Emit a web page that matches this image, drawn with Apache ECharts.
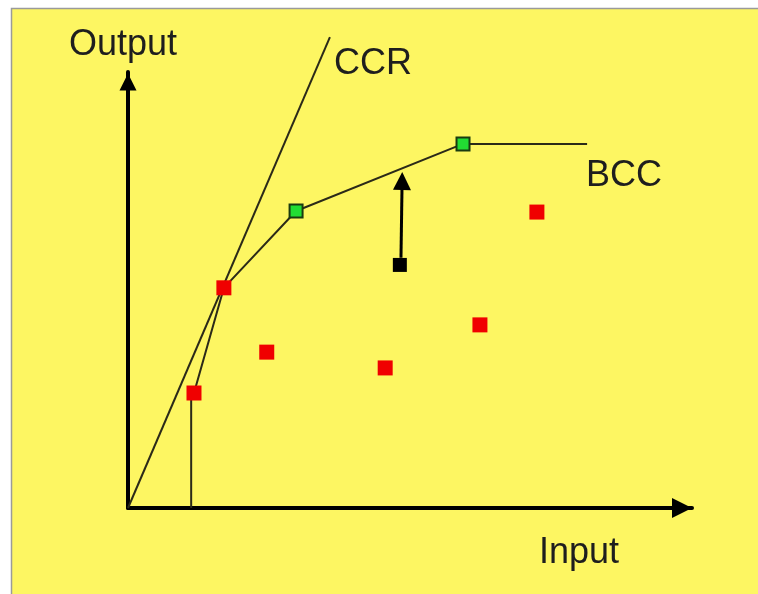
<!DOCTYPE html>
<html>
<head>
<meta charset="utf-8">
<script src="https://cdn.jsdelivr.net/npm/echarts@6/dist/echarts.min.js"></script>
<style>
html,body{margin:0;padding:0;background:#ffffff;}
#chart{width:758px;height:594px;}
</style>
</head>
<body>
<div id="chart"></div>
<script>
// Data (input, output)
const redUnits = [[1.17, 2.11], [1.70, 4.04], [2.46, 2.86], [4.56, 2.57], [6.24, 3.36], [7.25, 5.43]];
const greenUnits = [[2.98, 5.45], [5.94, 6.68]];
const blackUnit = [[4.82, 4.46]];
const ccrFrontier = [[0, 0], [3.58, 8.64]];
const bccFrontier = [[1.12, 0], [1.12, 2.05], [1.17, 2.11], [1.70, 4.04], [2.98, 5.45], [5.94, 6.68], [8.14, 6.68]];
const projection = [[4.84, 4.59], [4.86, 6.0]];
const labels = { x: 'Input', y: 'Output', ccr: 'CCR', bcc: 'BCC' };

const chart = echarts.init(document.getElementById('chart'));
const font = '"Liberation Sans", Arial, sans-serif';
const txt = '#1e1e1e';
const tri = 'path://M0,0 L10,20 L-10,20 Z';
chart.setOption({
  animation: false,
  backgroundColor: '#ffffff',
  graphic: [
    { type: 'rect', z: -10, shape: { x: 11.5, y: 8.5, width: 760, height: 600 },
      style: { fill: '#FDF662', stroke: '#9a9a9a', lineWidth: 1.5 } },
    { type: 'text', left: 69, top: 27, style: { text: labels.y, font: '36px ' + font, fill: txt } },
    { type: 'text', left: 334, top: 46, style: { text: labels.ccr, font: '36px ' + font, fill: txt } },
    { type: 'text', left: 586, top: 158, style: { text: labels.bcc, font: '36px ' + font, fill: txt } },
    { type: 'text', left: 539, top: 535, style: { text: labels.x, font: '36px ' + font, fill: txt } }
  ],
  grid: { left: 128, top: 72, width: 564, height: 436, containLabel: false },
  xAxis: {
    type: 'value', min: 0, max: 10,
    axisLine: { show: true, symbol: ['none', tri], symbolSize: [20, 20], symbolOffset: [0, -10],
      lineStyle: { color: '#000', width: 4 } },
    axisTick: { show: false }, axisLabel: { show: false }, splitLine: { show: false }
  },
  yAxis: {
    type: 'value', min: 0, max: 8,
    axisLine: { show: true, symbol: ['none', tri], symbolSize: [17, 20], symbolOffset: [0, -10],
      lineStyle: { color: '#000', width: 4 } },
    axisTick: { show: false }, axisLabel: { show: false }, splitLine: { show: false }
  },
  series: [
    { type: 'line', data: ccrFrontier, symbol: 'none', clip: false,
      lineStyle: { color: '#2b2a18', width: 2 } },
    { type: 'line', data: bccFrontier, symbol: 'none', clip: false,
      lineStyle: { color: '#2b2a18', width: 2 } },
    { type: 'lines', coordinateSystem: 'cartesian2d', z: 5,
      symbol: ['none', tri], symbolSize: [16, 18],
      lineStyle: { color: '#000', width: 3, opacity: 1 },
      data: [{ coords: projection }] },
    { type: 'scatter', data: redUnits, symbol: 'rect', symbolSize: 15, z: 6,
      itemStyle: { color: '#f00000', opacity: 1 } },
    { type: 'scatter', data: greenUnits, symbol: 'rect', symbolSize: 13, z: 6,
      itemStyle: { color: '#22dd33', borderColor: '#1a3a10', borderWidth: 2, opacity: 1 } },
    { type: 'scatter', data: blackUnit, symbol: 'rect', symbolSize: 14, z: 6,
      itemStyle: { color: '#000', opacity: 1 } }
  ]
});
</script>
</body>
</html>
